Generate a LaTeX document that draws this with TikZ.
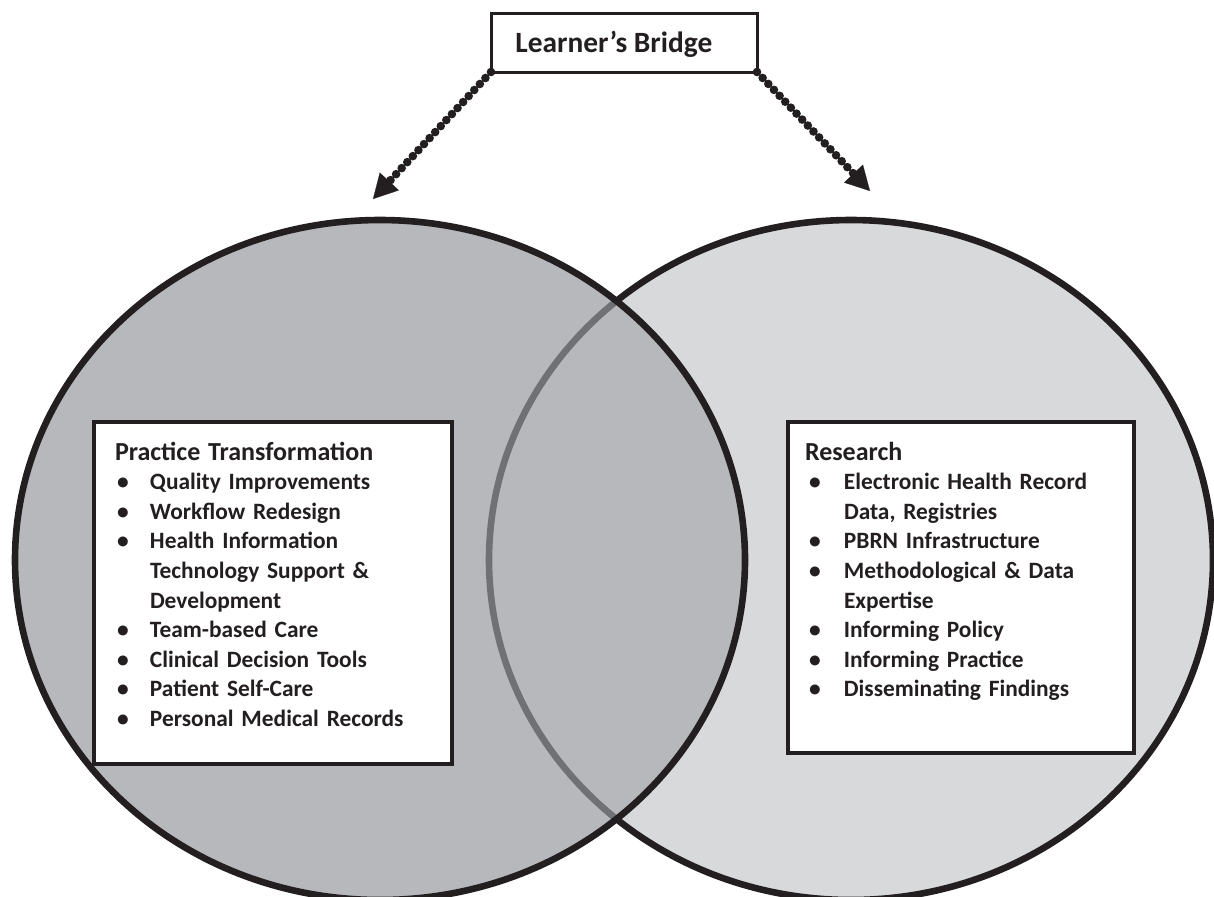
\documentclass[tikz,border=0pt]{standalone}
\usepackage{fontspec}
\setmainfont{Carlito}
\usetikzlibrary{arrows.meta}
\definecolor{ink}{RGB}{35,31,32}
\definecolor{leftfill}{RGB}{183,184,188}
\definecolor{rightfill}{RGB}{216,217,219}
\definecolor{arcgrey}{RGB}{112,113,116}
\newlength\vvind
\newlength\vvbul
\newcommand\vitem[1]{\par\hangindent=\vvind\hangafter=1\noindent\makebox[\vvind][l]{\hspace{\vvbul}\textbullet}#1}
\newcommand\vvtitle[1]{\noindent\rule{0pt}{10pt}{\fontsize{13pt}{14.8pt}\selectfont #1}}
\begin{document}
\begin{tikzpicture}[x=0.5pt,y=-0.5pt,
  ring/.style={ink, line width=3.3pt},
  box/.style={draw=ink, fill=white, line width=1.6pt, inner sep=0pt, outer sep=0pt, anchor=north west},
  txt/.style={inner sep=0pt, outer sep=0pt, anchor=north west, text=ink, font=\fontsize{11.7pt}{14.8pt}\selectfont\bfseries},
  dotline/.style={ink, line width=4.3pt, line cap=round, dash pattern=on 0pt off 4.1pt,
    -{Triangle[length=12pt,width=13pt,line width=0.1pt]}}]
\useasboundingbox (0,0) rectangle (1214,896);
% ellipses
\coordinate (cl) at (380,560);
\coordinate (cr) at (851,560);
\fill[rightfill] (cr) ellipse [x radius=181pt, y radius=170pt];
\draw[ring] (cr) ellipse [x radius=181pt, y radius=170pt];
\fill[leftfill] (cl) ellipse [x radius=182.5pt, y radius=170pt];
\begin{scope}
  \clip (cl) ellipse [x radius=182.5pt, y radius=170pt];
  \draw[ring, draw=arcgrey] (cr) ellipse [x radius=181pt, y radius=170pt];
\end{scope}
\draw[ring] (cl) ellipse [x radius=182.5pt, y radius=170pt];
% top box
\node[box, line width=1.5pt, minimum width=133pt, minimum height=29.5pt] (lb) at (491,13) {};
\node[inner sep=0pt, anchor=base west, text=ink, font=\fontsize{14.7pt}{18pt}\selectfont\bfseries] (lbt) at (515,52) {Learner’s Bridge};
% arrows
\coordinate (tl) at (373,199);
\coordinate (tr) at (870,191);
\draw[dotline] (lb.south west) -- (tl);
\draw[dotline] (lb.south east) -- (tr);
% left box
\node[box, minimum width=179pt, minimum height=171pt] (pbox) at (94,422) {};
\node[txt, text width=165pt] (ptxt) at (115,440) {\setlength\vvind{17.5pt}\setlength\vvbul{1pt}%
\vvtitle{Practice Transformation}
\vitem{Quality Improvements}
\vitem{Workflow Redesign}
\vitem{Health Information\newline Technology Support \&\newline Development}
\vitem{Team-based Care}
\vitem{Clinical Decision Tools}
\vitem{Patient Self-Care}
\vitem{Personal Medical Records}};
% right box
\node[box, minimum width=173pt, minimum height=165.5pt] (rbox) at (788,422) {};
\node[txt, text width=160pt] (rtxt) at (805,440) {\setlength\vvind{19.5pt}\setlength\vvbul{2pt}%
\vvtitle{Research}
\vitem{Electronic Health Record\newline Data, Registries}
\vitem{PBRN Infrastructure}
\vitem{Methodological \& Data\newline Expertise}
\vitem{Informing Policy}
\vitem{Informing Practice}
\vitem{Disseminating Findings}};
\end{tikzpicture}
\end{document}
